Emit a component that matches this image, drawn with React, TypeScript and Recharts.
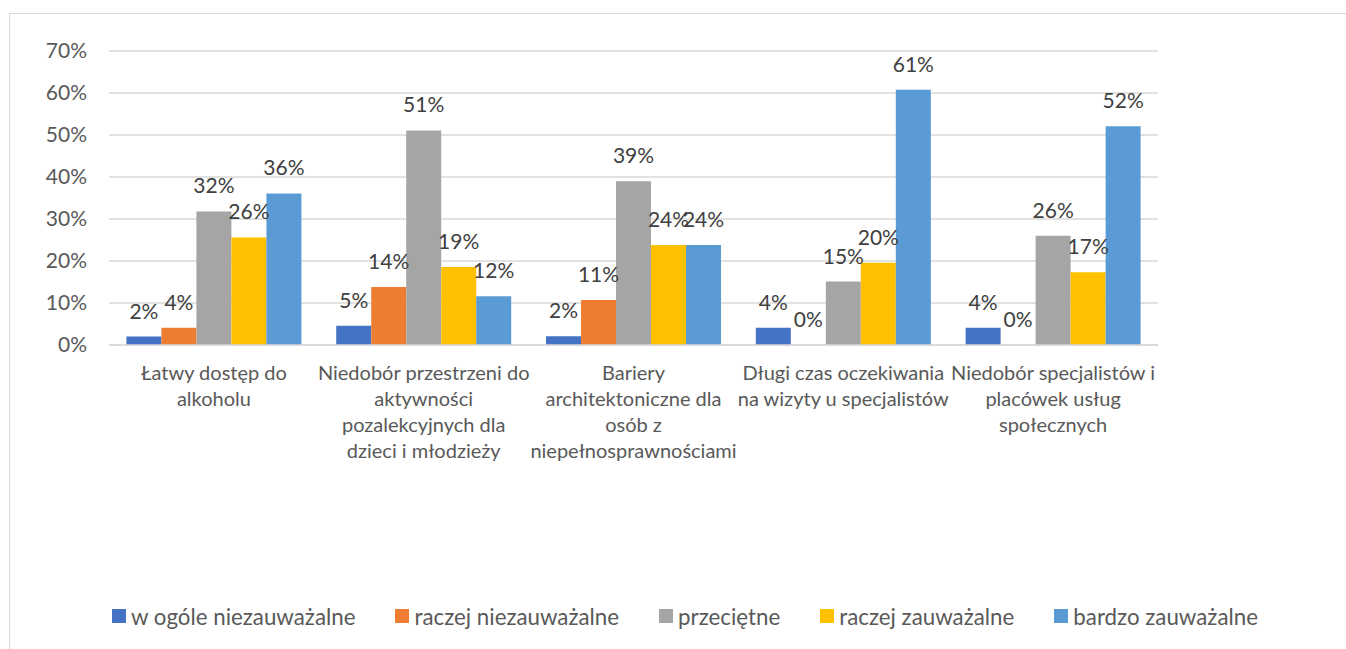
import React from 'react';
import {
    BarChart,
    Bar,
    XAxis,
    YAxis,
    CartesianGrid,
    Legend,
    LabelList
} from 'recharts';

const categories = [
    'Łatwy dostęp do alkoholu',
    'Niedobór przestrzeni do aktywności pozalekcyjnych dla dzieci i młodzieży',
    'Bariery architektoniczne dla osób z niepełnosprawnościami',
    'Długi czas oczekiwania na wizyty u specjalistów',
    'Niedobór specjalistów i placówek usług społecznych',
];

// wrapped the same way as in the source chart
const categoryLines = [
    ['Łatwy dostęp do', 'alkoholu'],
    ['Niedobór przestrzeni do', 'aktywności', 'pozalekcyjnych dla', 'dzieci i młodzieży'],
    ['Bariery', 'architektoniczne dla', 'osób z', 'niepełnosprawnościami'],
    ['Długi czas oczekiwania', 'na wizyty u specjalistów'],
    ['Niedobór specjalistów i', 'placówek usług', 'społecznych'],
];

const seriesNames = [
    'w ogóle niezauważalne',
    'raczej niezauważalne',
    'przeciętne',
    'raczej zauważalne',
    'bardzo zauważalne',
];

const wOgoleNiezauwazalne = [2.0, 4.6, 2.1, 4.1, 4.1];
const raczejNiezauwazalne = [4.1, 13.8, 10.7, 0, 0];
const przecietne = [31.8, 51.1, 39.0, 15.1, 26.0];
const raczejZauwazalne = [25.6, 18.6, 23.8, 19.6, 17.3];
const bardzoZauwazalne = [36.1, 11.6, 23.8, 60.8, 52.1];

const yTicks = [0, 10, 20, 30, 40, 50, 60, 70];

const colors = ['#4472C4', '#ED7D31', '#A5A5A5', '#FFC000', '#5B9BD5'];
const keys = ['s0', 's1', 's2', 's3', 's4'];

const data = categories.map((name, i) => ({
    name,
    s0: wOgoleNiezauwazalne[i],
    s1: raczejNiezauwazalne[i],
    s2: przecietne[i],
    s3: raczejZauwazalne[i],
    s4: bardzoZauwazalne[i],
}));

const FONT = 'Lato, "Liberation Sans", sans-serif';

const CategoryTick = ({ x, y, payload }: any) => {
    const idx = categories.indexOf(payload.value);
    const lines = categoryLines[idx] || [payload.value];
    return (
        <text x={x} y={y} textAnchor="middle" fill="#595959" fontSize={20} fontFamily={FONT}>
            {lines.map((line, i) => (
                <tspan key={i} x={x} y={y + 27 + i * 26}>{line}</tspan>
            ))}
        </text>
    );
};

const renderBarLabel = (props: any) => {
    const { x, y, width, height, value } = props;
    // zero bars get a tiny height, keep their label on the baseline
    const top = height > 0 ? y : y + height;
    return (
        <text
            x={x + width / 2}
            y={top - 18}
            textAnchor="middle"
            fill="#404040"
            fontSize={21}
            fontFamily={FONT}
        >
            {Math.round(value)}%
        </text>
    );
};

const renderLegend = () => (
    <div style={{ display: 'flex', justifyContent: 'center', alignItems: 'center', height: 30, paddingLeft: 14, gap: 40 }}>
        {seriesNames.map((name, i) => (
            <div key={i} style={{ display: 'flex', alignItems: 'center', gap: 5 }}>
                <div style={{ width: 14, height: 14, backgroundColor: colors[i] }}></div>
                <span style={{ fontSize: 22.3, color: '#595959', fontFamily: FONT }}>{name}</span>
            </div>
        ))}
    </div>
);

export default function App() {
    return (
        <div
            style={{
                position: 'absolute',
                left: 9,
                top: 13,
                width: 1337,
                height: 636,
                borderLeft: '1px solid #D9D9D9',
                borderTop: '1px solid #D9D9D9',
                boxSizing: 'border-box',
                background: '#fff',
                fontFamily: FONT,
            }}
        >
            <BarChart
                width={1336}
                height={635}
                data={data}
                margin={{ top: 37, right: 188, left: 0, bottom: 18 }}
                barCategoryGap="8.3%"
                barGap={0}
            >
                <CartesianGrid vertical={false} stroke="#D9D9D9" strokeWidth={1.5} />
                <XAxis
                    dataKey="name"
                    height={256}
                    interval={0}
                    tickLine={false}
                    axisLine={{ stroke: '#D9D9D9', strokeWidth: 1.5 }}
                    tick={<CategoryTick />}
                />
                <YAxis
                    width={99}
                    domain={[0, 70]}
                    ticks={yTicks}
                    tickFormatter={(v: number) => `${v}%`}
                    axisLine={false}
                    tickLine={false}
                    tickSize={0}
                    tickMargin={22}
                    tick={{ fill: '#595959', fontSize: 21, fontFamily: FONT }}
                />
                {keys.map((k, i) => (
                    <Bar
                        key={k}
                        dataKey={k}
                        name={seriesNames[i]}
                        fill={colors[i]}
                        minPointSize={0.01}
                        isAnimationActive={false}
                    >
                        <LabelList dataKey={k} content={renderBarLabel} />
                    </Bar>
                ))}
                <Legend
                    verticalAlign="bottom"
                    content={renderLegend}
                    wrapperStyle={{ left: 0, width: 1336 }}
                />
            </BarChart>
        </div>
    );
}
